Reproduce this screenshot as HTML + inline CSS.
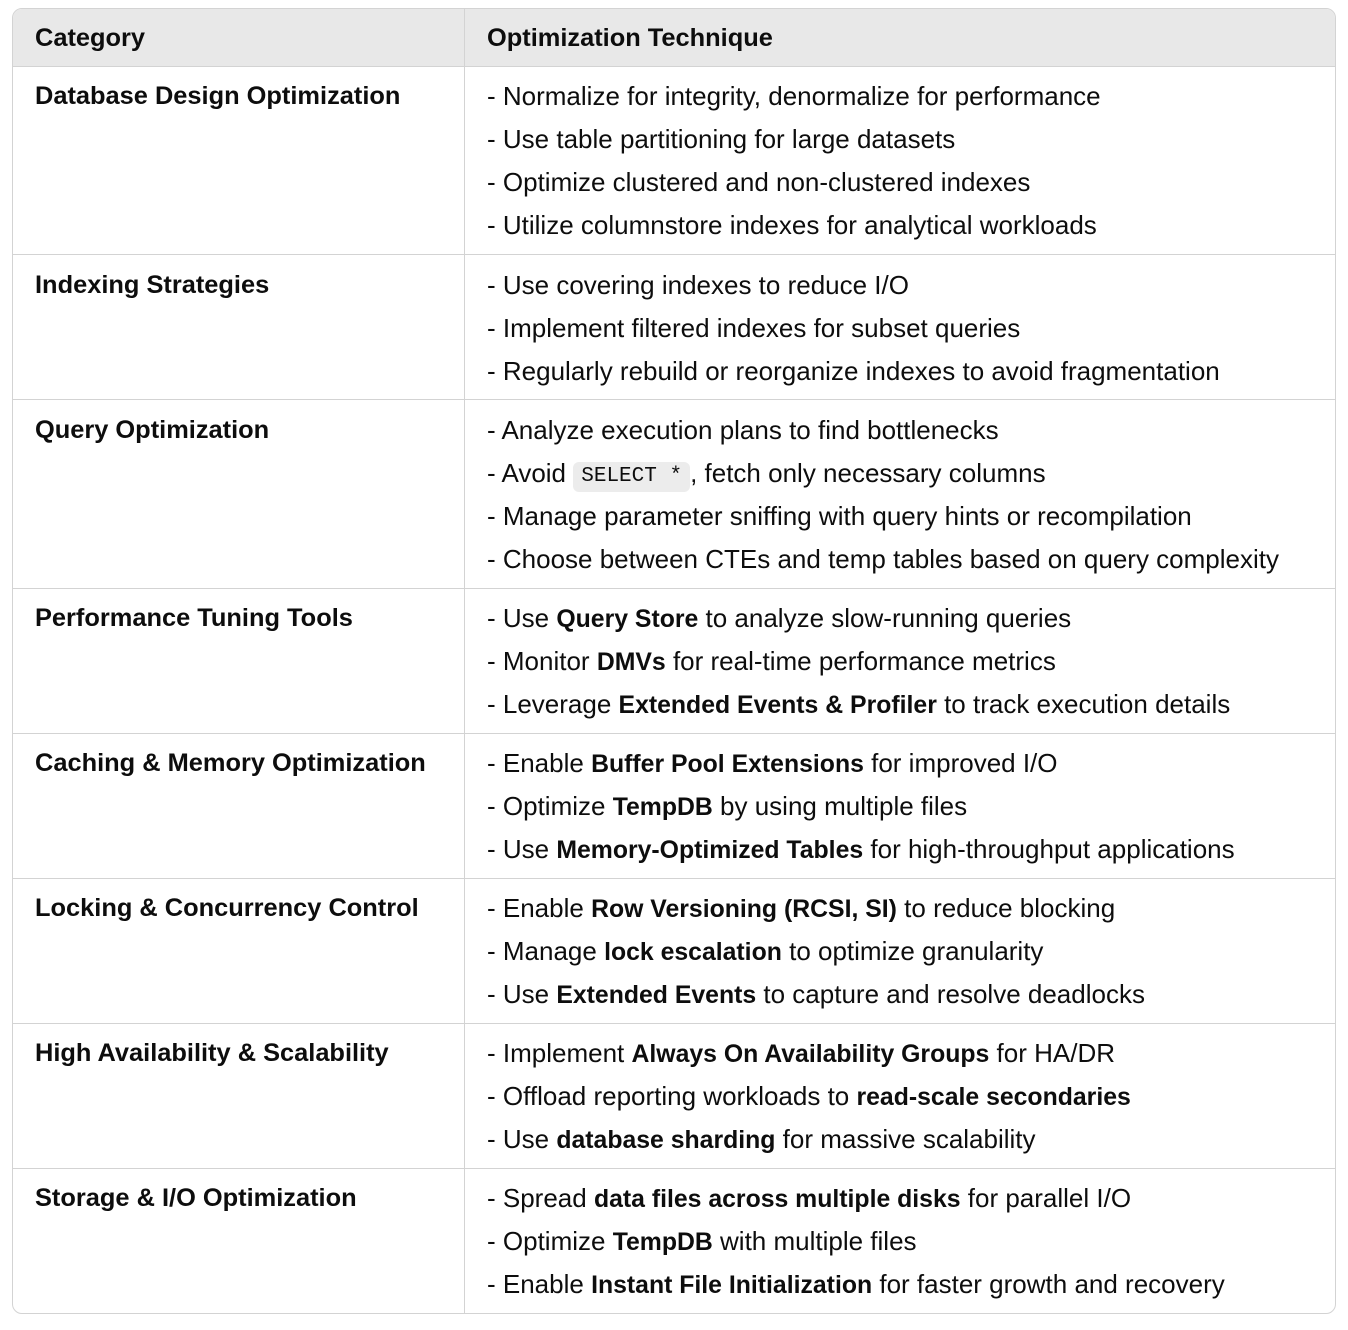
<!DOCTYPE html>
<html><head><meta charset="utf-8"><style>
html,body{margin:0;padding:0;background:#fff;}
body{width:1348px;height:1330px;position:relative;font-family:"Liberation Sans",sans-serif;font-size:26px;color:#0d0d0d;}
.tbl{position:absolute;left:12px;top:8px;width:1324px;height:1306px;border:1px solid #d3d3d3;border-radius:10px;overflow:hidden;box-sizing:border-box;}
.hdr{position:absolute;left:0;top:0;width:100%;height:58px;background:#e8e8e8;border-bottom:1px solid #d3d3d3;box-sizing:border-box;}
.vl{position:absolute;left:451px;top:0;width:1px;height:100%;background:#d3d3d3;}
.hl{position:absolute;left:0;width:100%;height:1px;background:#d3d3d3;}
.t{position:absolute;white-space:nowrap;line-height:43px;}
.c1{left:22px;font-weight:bold;font-size:25.4px;}
.c2{left:474px;}
b{font-weight:bold;font-size:24.8px;line-height:0;}
code{font-family:"Liberation Mono",monospace;font-size:21px;background:#ececec;border-radius:6px;padding:0 8px;display:inline-block;line-height:30px;vertical-align:1px;}
</style></head><body>
<div class="tbl">
<div class="hdr"></div>
<div class="vl"></div>
<div class="hl" style="top:245px"></div>
<div class="hl" style="top:390px"></div>
<div class="hl" style="top:579px"></div>
<div class="hl" style="top:724px"></div>
<div class="hl" style="top:869px"></div>
<div class="hl" style="top:1014px"></div>
<div class="hl" style="top:1159px"></div>

<div class="t c1" style="top:8px">Category</div>
<div class="t c1" style="top:8px;left:474px">Optimization Technique</div>

<div class="t c1" style="top:66px">Database Design Optimization</div>
<div class="t c2" style="top:66px">- Normalize for integrity, denormalize for performance<br>- Use table partitioning for large datasets<br>- Optimize clustered and non-clustered indexes<br>- Utilize columnstore indexes for analytical workloads</div>

<div class="t c1" style="top:255px">Indexing Strategies</div>
<div class="t c2" style="top:255px">- Use covering indexes to reduce I/O<br>- Implement filtered indexes for subset queries<br>- Regularly rebuild or reorganize indexes to avoid fragmentation</div>

<div class="t c1" style="top:400px">Query Optimization</div>
<div class="t c2" style="top:400px">- Analyze execution plans to find bottlenecks<br>- Avoid <code>SELECT *</code>, fetch only necessary columns<br>- Manage parameter sniffing with query hints or recompilation<br>- Choose between CTEs and temp tables based on query complexity</div>

<div class="t c1" style="top:588px">Performance Tuning Tools</div>
<div class="t c2" style="top:588px">- Use <b>Query Store</b> to analyze slow-running queries<br>- Monitor <b>DMVs</b> for real-time performance metrics<br>- Leverage <b>Extended Events &amp; Profiler</b> to track execution details</div>

<div class="t c1" style="top:733px">Caching &amp; Memory Optimization</div>
<div class="t c2" style="top:733px">- Enable <b>Buffer Pool Extensions</b> for improved I/O<br>- Optimize <b>TempDB</b> by using multiple files<br>- Use <b>Memory-Optimized Tables</b> for high-throughput applications</div>

<div class="t c1" style="top:878px">Locking &amp; Concurrency Control</div>
<div class="t c2" style="top:878px">- Enable <b>Row Versioning (RCSI, SI)</b> to reduce blocking<br>- Manage <b>lock escalation</b> to optimize granularity<br>- Use <b>Extended Events</b> to capture and resolve deadlocks</div>

<div class="t c1" style="top:1023px">High Availability &amp; Scalability</div>
<div class="t c2" style="top:1023px">- Implement <b>Always On Availability Groups</b> for HA/DR<br>- Offload reporting workloads to <b>read-scale secondaries</b><br>- Use <b>database sharding</b> for massive scalability</div>

<div class="t c1" style="top:1168px">Storage &amp; I/O Optimization</div>
<div class="t c2" style="top:1168px">- Spread <b>data files across multiple disks</b> for parallel I/O<br>- Optimize <b>TempDB</b> with multiple files<br>- Enable <b>Instant File Initialization</b> for faster growth and recovery</div>
</div>
</body></html>
